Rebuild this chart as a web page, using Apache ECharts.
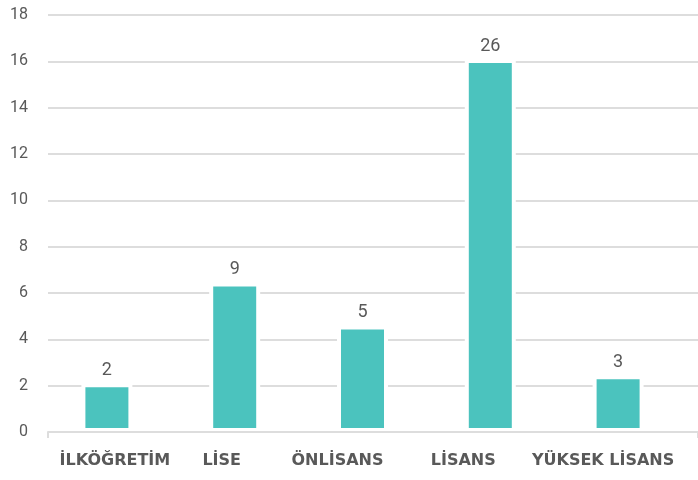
<!DOCTYPE html>
<html lang="tr">
<head>
    <meta charset="UTF-8">
    <title>Egitim Durumu</title>
    <style>
        html, body { margin: 0; padding: 0; background: #fff; }
        #root { width: 698px; height: 480px; }
    </style>
</head>
<body>
    <div id="root"></div>
    <script src="https://cdn.jsdelivr.net/npm/echarts@6/dist/echarts.min.js"></script>
    <script>
        var categories = ["İLKÖĞRETİM", "LİSE", "ÖNLİSANS", "LİSANS", "YÜKSEK LİSANS"];
        // bar heights as drawn on the axis
        var barHeights = [2.1, 6.45, 4.6, 16.1, 2.45];
        // numbers printed above the bars
        var barLabels = [2, 9, 5, 26, 3];
        var yMin = 0, yMax = 18, yStep = 2;

        // the category names in the original are not centred under their bars (px, + = right)
        var labelShift = [8, -13, -25, -27, -15];

        var gridColor = "#dddddd";
        var textColor = "#595959";

        var catRich = {};
        labelShift.forEach(function (d, i) {
            catRich["s" + i] = {
                color: textColor,
                fontFamily: "DejaVu Sans",
                fontWeight: "bold",
                fontSize: 16,
                padding: d >= 0 ? [0, 0, 0, 2 * d] : [0, -2 * d, 0, 0]
            };
        });

        var option = {
            animation: false,
            grid: [
                { left: 48, right: 0, top: 15, bottom: 48 },
                { left: 43, right: 16, top: 15, bottom: 48 }
            ],
            xAxis: [
                {
                    gridIndex: 0, type: "value", min: 0, max: 1, splitNumber: 1,
                    z: 5,
                    axisLine: { show: true, lineStyle: { color: gridColor, width: 2 } },
                    axisTick: { show: true, length: 6, lineStyle: { color: gridColor, width: 2 } },
                    axisLabel: { show: false },
                    splitLine: { show: false }
                },
                {
                    gridIndex: 1, type: "category", data: categories,
                    axisLine: { show: false },
                    axisTick: { show: false },
                    axisLabel: {
                        interval: 0,
                        margin: 21,
                        color: textColor,
                        fontFamily: "DejaVu Sans",
                        fontWeight: "bold",
                        fontSize: 16,
                        formatter: function (v, i) { return "{s" + i + "|" + v + "}"; },
                        rich: catRich
                    }
                }
            ],
            yAxis: [
                {
                    gridIndex: 0, type: "value", min: yMin, max: yMax, interval: yStep,
                    z: 0,
                    axisLine: { show: false },
                    axisTick: { show: false },
                    axisLabel: {
                        margin: 20,
                        color: textColor,
                        fontFamily: "Roboto",
                        fontSize: 16
                    },
                    splitLine: { lineStyle: { color: gridColor, width: 2 } }
                },
                {
                    gridIndex: 1, type: "value", min: yMin, max: yMax, interval: yStep,
                    show: false
                }
            ],
            series: [
                {
                    type: "bar",
                    xAxisIndex: 1,
                    yAxisIndex: 1,
                    barWidth: 51,
                    z: 2,
                    data: barHeights,
                    itemStyle: {
                        color: "#4bc3be",
                        borderColor: "#ffffff",
                        borderWidth: 4
                    },
                    label: {
                        show: true,
                        position: "top",
                        distance: 4,
                        color: textColor,
                        fontFamily: "Roboto",
                        fontSize: 18,
                        formatter: function (p) { return barLabels[p.dataIndex]; }
                    }
                }
            ]
        };

        var chart = echarts.init(document.getElementById("root"));
        chart.setOption(option);
    </script>
</body>
</html>
